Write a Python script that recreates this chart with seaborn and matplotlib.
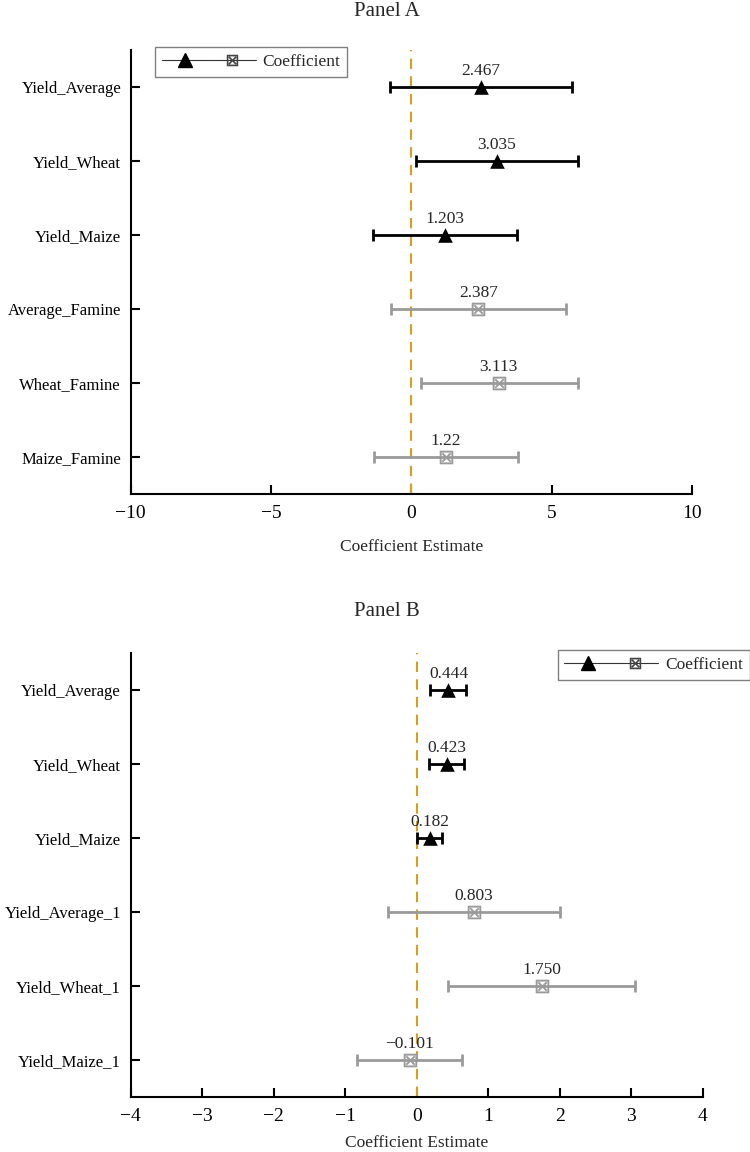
import numpy as np
import pandas as pd
import matplotlib.pyplot as plt
import seaborn as sns
from matplotlib.lines import Line2D
from matplotlib.legend_handler import HandlerTuple

sns.set_style('ticks')
plt.rcParams['font.family'] = ['Liberation Serif', 'DejaVu Serif']
plt.rcParams['mathtext.fontset'] = 'dejavusans'

# Panel A data
terms_a = ['Yield_Average', 'Yield_Wheat', 'Yield_Maize',
           'Average_Famine', 'Wheat_Famine', 'Maize_Famine']
coef_a = [2.467, 3.035, 1.203, 2.387, 3.113, 1.22]
low_a = [-0.78, 0.15, -1.36, -0.72, 0.33, -1.35]
high_a = [5.72, 5.93, 3.78, 5.52, 5.92, 3.79]
text_a = ['2.467', '3.035', '1.203', '2.387', '3.113', '1.22']
group_a = ['base', 'base', 'base', 'famine', 'famine', 'famine']

# Panel B data
terms_b = ['Yield_Average', 'Yield_Wheat', 'Yield_Maize',
           'Yield_Average_1', 'Yield_Wheat_1', 'Yield_Maize_1']
coef_b = [0.444, 0.423, 0.182, 0.803, 1.750, -0.101]
low_b = [0.19, 0.17, 0.01, -0.40, 0.44, -0.84]
high_b = [0.69, 0.66, 0.36, 2.00, 3.05, 0.64]
text_b = ['0.444', '0.423', '0.182', '0.803', '1.750', '\u22120.101']
group_b = ['base', 'base', 'base', 'famine', 'famine', 'famine']

colors = {'base': 'black', 'famine': '#9a9a9a'}
markers = {'base': '^', 'famine': '$\\boxtimes$'}
msizes = {'base': 10.5, 'famine': 9.5}
zero_color = '#D4A020'


def forest(ax, terms, coef, low, high, text, group, xlim, xticks):
    df = pd.DataFrame({'term': terms, 'coef': coef, 'low': low,
                       'high': high, 'text': text, 'group': group})
    df['pos'] = np.arange(len(df))
    ax.axvline(0, color=zero_color, ls=(0, (5, 3.5)), lw=1.5, zorder=1)
    for g, sub in df.groupby('group'):
        ax.errorbar(sub['coef'], sub['pos'],
                    xerr=[sub['coef'] - sub['low'], sub['high'] - sub['coef']],
                    fmt='none', ecolor=colors[g], elinewidth=2,
                    capsize=4.5, capthick=2, zorder=2)
    for g, sub in df.groupby('group'):
        sns.scatterplot(data=sub, x='coef', y='pos', ax=ax,
                        marker=markers[g], s=msizes[g] ** 2,
                        color=colors[g], edgecolor=colors[g],
                        linewidth=0 if g == 'base' else 0.2,
                        zorder=3, legend=False)
    for _, r in df.iterrows():
        ax.annotate(r['text'], (r['coef'], r['pos']), xytext=(0, 6),
                    textcoords='offset points', ha='center', va='bottom',
                    fontsize=12.5)
    ax.set_yticks(df['pos'])
    ax.set_yticklabels(df['term'])
    ax.set_ylim(len(df) - 0.5, -0.5)
    ax.set_xlim(*xlim)
    ax.set_xticks(xticks)
    ax.set_ylabel('')
    sns.despine(ax=ax)
    for s in ['left', 'bottom']:
        ax.spines[s].set_linewidth(1.5)
        ax.spines[s].set_color('black')
    ax.tick_params(direction='in', length=6.5, width=1.5, colors='black')
    ax.tick_params(axis='x', pad=8, labelsize=14)
    ax.tick_params(axis='y', pad=7, labelsize=12)


fig = plt.figure(figsize=(7.5, 11.52), dpi=100)
ax_a = fig.add_axes([0.1744, 0.5712, 0.7483, 0.3854])
ax_b = fig.add_axes([0.1743, 0.0477, 0.7627, 0.3854])

forest(ax_a, terms_a, coef_a, low_a, high_a, text_a, group_a,
       (-10, 10), [-10, -5, 0, 5, 10])
forest(ax_b, terms_b, coef_b, low_b, high_b, text_b, group_b,
       (-4, 4), [-4, -3, -2, -1, 0, 1, 2, 3, 4])
ax_a.set_xlabel('Coefficient Estimate', fontsize=12.5, labelpad=12)
ax_b.set_xlabel('Coefficient Estimate', fontsize=12.5, labelpad=7)

fig.text(0.516, 1 - 11 / 1152, 'Panel A', ha='center', va='center', fontsize=15)
fig.text(0.516, 1 - 611 / 1152, 'Panel B', ha='center', va='center', fontsize=15)

# legend: one entry showing both marker types
h1 = Line2D([], [], color='#333333', lw=0.8, marker='^', ms=10,
            markerfacecolor='black', markeredgecolor='black')
h2 = Line2D([], [], color='#333333', lw=0.8, marker='$\\boxtimes$', ms=8,
            markerfacecolor='#444444', markeredgecolor='#444444',
            markeredgewidth=0.2)
leg_kw = dict(handler_map={tuple: HandlerTuple(ndivide=None, pad=0)},
              handlelength=5.4, fontsize=12.5, frameon=True, fancybox=False,
              edgecolor='#808080', framealpha=1, borderpad=0.4,
              handletextpad=0.4, borderaxespad=0)
lg = ax_a.legend([(h1, h2)], ['Coefficient'], loc='upper left',
                 bbox_to_anchor=(155 / 750, 1 - 47 / 1152),
                 bbox_transform=fig.transFigure, **leg_kw)
lg.get_frame().set_linewidth(1.0)
lg = ax_b.legend([(h1, h2)], ['Coefficient'], loc='upper right',
                 bbox_to_anchor=(1.0, 1 - 650 / 1152),
                 bbox_transform=fig.transFigure, **leg_kw)
lg.get_frame().set_linewidth(1.0)

plt.savefig('out.png', dpi=100)
